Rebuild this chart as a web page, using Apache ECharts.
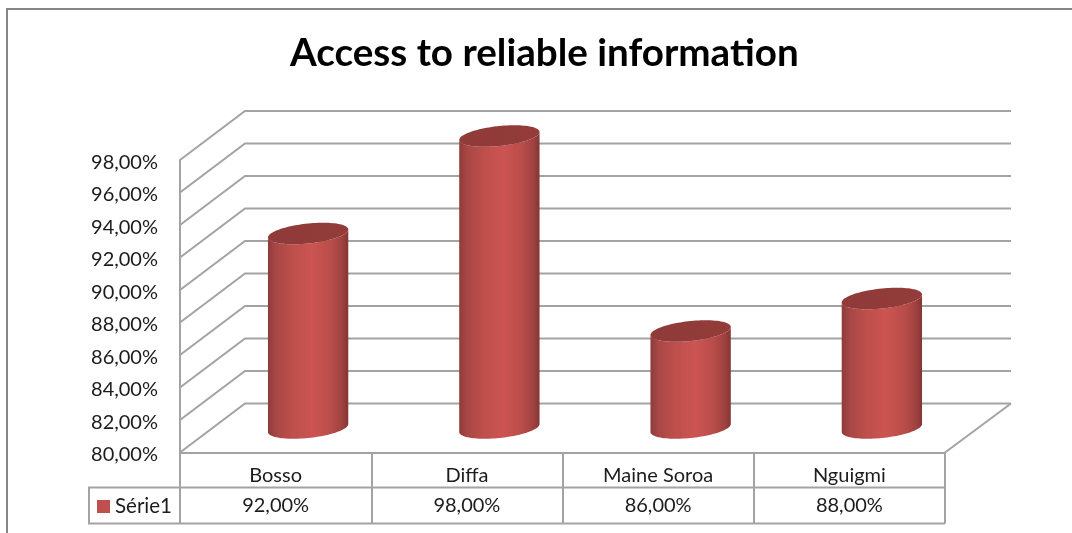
<!DOCTYPE html>
<html><head><meta charset="utf-8">
<style>html,body{margin:0;padding:0;background:#fff}#c{width:1072px;height:533px}</style>
<script src="https://cdn.jsdelivr.net/npm/echarts@6/dist/echarts.min.js"></script>
</head><body><div id="c"></div>
<script>
const titleText = 'Access to reliable information';
const seriesName = 'Série1';
const categories = ['Bosso', 'Diffa', 'Maine Soroa', 'Nguigmi'];
const values = [92, 98, 86, 88];
const yTicks = [80, 82, 84, 86, 88, 90, 92, 94, 96, 98];

const FONT = 'Lato, "Open Sans", sans-serif';
const GRID_L = 180, GRID_R = 945, GRID_T = 160, GRID_B = 452.5;
const DEPTH_X = 65, DEPTH_Y = 49;
const ROW1 = 487.5, ROW2 = 523.5, LEG_L = 89;
const LINE = '#a3a3a3';
const pct = v => v.toFixed(2).replace('.', ',') + '%';

function ellipse(cx, cy, a, b, s, from, to, n) {
  const pts = [];
  for (let i = 0; i <= n; i++) {
    const t = from + (to - from) * i / n;
    pts.push([cx + a * Math.cos(t), cy + b * Math.sin(t) + s * Math.cos(t)]);
  }
  return pts;
}

const chart = echarts.init(document.getElementById('c'), null, {renderer: 'canvas'});
chart.setOption({
  animation: false,
  backgroundColor: '#fff',
  title: {
    text: titleText, left: 285, top: 29,
    textStyle: {fontFamily: FONT, fontSize: 38.6, fontWeight: 'bold', color: '#000'}
  },
  legend: {
    data: [seriesName], left: 92, top: 491, icon: 'rect', itemWidth: 13, itemHeight: 13, itemGap: 0,
    textStyle: {fontFamily: FONT, fontSize: 20.5, color: '#1c1c1c'}
  },
  grid: {left: GRID_L, right: 1072 - GRID_R, top: GRID_T, bottom: 533 - GRID_B},
  xAxis: {
    type: 'category', data: categories, boundaryGap: true,
    axisLine: {show: true, lineStyle: {color: LINE, width: 2}},
    axisTick: {show: true, length: ROW2 - GRID_B, lineStyle: {color: LINE, width: 2}},
    axisLabel: {fontFamily: FONT, fontSize: 20, color: '#1c1c1c', margin: 13, interval: 0}
  },
  yAxis: {
    type: 'value', min: 80, max: 98, interval: 2,
    axisLine: {show: true, lineStyle: {color: LINE, width: 2}},
    axisTick: {show: false},
    splitLine: {show: false},
    axisLabel: {
      margin: 22,
      formatter: v => '{t|' + pct(v) + '}',
      rich: {t: {fontFamily: FONT, fontSize: 20, color: '#1c1c1c', padding: [5, 0, 0, 0]}}
    }
  },
  series: [
    {
      type: 'custom', name: 'walls', silent: true, z: 1, clip: false,
      data: yTicks.map(v => [0, v]),
      encode: {x: 0, y: 1},
      renderItem(params, api) {
        const y = api.coord([0, api.value(1)])[1];
        return {
          type: 'polyline',
          shape: {points: [[GRID_L, y], [GRID_L + DEPTH_X, y - DEPTH_Y], [GRID_R + DEPTH_X + 1, y - DEPTH_Y]]},
          style: {stroke: LINE, lineWidth: 2, fill: null}
        };
      }
    },
    {
      type: 'custom', name: 'floor', silent: true, z: 1, clip: false,
      data: [[0, yTicks[0]]],
      encode: {x: 0, y: 1},
      renderItem(params, api) {
        const y = api.coord([0, api.value(1)])[1];
        return {
          type: 'line',
          shape: {x1: GRID_R, y1: y, x2: GRID_R + DEPTH_X + 1, y2: y - DEPTH_Y},
          style: {stroke: LINE, lineWidth: 2}
        };
      }
    },
    {
      type: 'custom', name: seriesName, z: 3, clip: false,
      itemStyle: {color: '#c0504d'},
      data: values.map((v, i) => [i, v]),
      encode: {x: 0, y: 1},
      renderItem(params, api) {
        const i = api.value(0), v = api.value(1);
        const top = api.coord([i, v]);
        const bot = api.coord([i, yTicks[0]]);
        const band = api.size([1, 0])[0];
        const a = band * 0.21, b = 10, s = -4;
        const cx = top[0] + DEPTH_X / 2;
        const yT = top[1] - DEPTH_Y / 2 + 0.5, yB = bot[1] - DEPTH_Y / 2;
        const body = ellipse(cx, yB, a, b, s, Math.PI, 0, 48)
          .concat(ellipse(cx, yT, a, b, s, 0, Math.PI, 48));
        const cap = ellipse(cx, yT, a, b, s, 0, Math.PI * 2, 96);
        return {
          type: 'group',
          children: [
            {
              type: 'polygon', shape: {points: body},
              style: {
                fill: new echarts.graphic.LinearGradient(0, 0, 1, 0, [
                  {offset: 0, color: '#8c3c3a'},
                  {offset: 0.1, color: '#a84745'},
                  {offset: 0.3, color: '#bd4f4c'},
                  {offset: 0.55, color: '#cc5451'},
                  {offset: 0.78, color: '#b94d4a'},
                  {offset: 0.92, color: '#a04240'},
                  {offset: 1, color: '#843634'}
                ])
              }
            },
            {
              type: 'polygon', shape: {points: cap},
              style: {
                fill: new echarts.graphic.LinearGradient(0, 0, 1, 0, [
                  {offset: 0, color: '#8f3b39'},
                  {offset: 1, color: '#933c3a'}
                ])
              }
            }
          ]
        };
      }
    },
    {
      type: 'custom', name: 'tableValues', silent: true, z: 4, clip: false,
      data: values.map((v, i) => [i, v]),
      encode: {x: 0, y: 1},
      renderItem(params, api) {
        const c = api.coord([api.value(0), yTicks[0]]);
        return {
          type: 'text',
          style: {
            x: c[0], y: (ROW1 + ROW2) / 2 + 0.5,
            text: pct(api.value(1)), align: 'center', verticalAlign: 'middle',
            font: '20px ' + FONT, fill: '#1c1c1c'
          }
        };
      }
    }
  ],
  graphic: [
    {type: 'polyline', silent: true, z: 0, shape: {points: [[7, 533], [7, 9], [1072, 9]]}, style: {stroke: '#868686', lineWidth: 2, fill: null}},
    {type: 'polyline', silent: true, z: 2, shape: {points: [[GRID_R, ROW1], [LEG_L, ROW1], [LEG_L, ROW2], [GRID_R, ROW2]]}, style: {stroke: LINE, lineWidth: 2, fill: null}}
  ]
});
</script></body></html>
